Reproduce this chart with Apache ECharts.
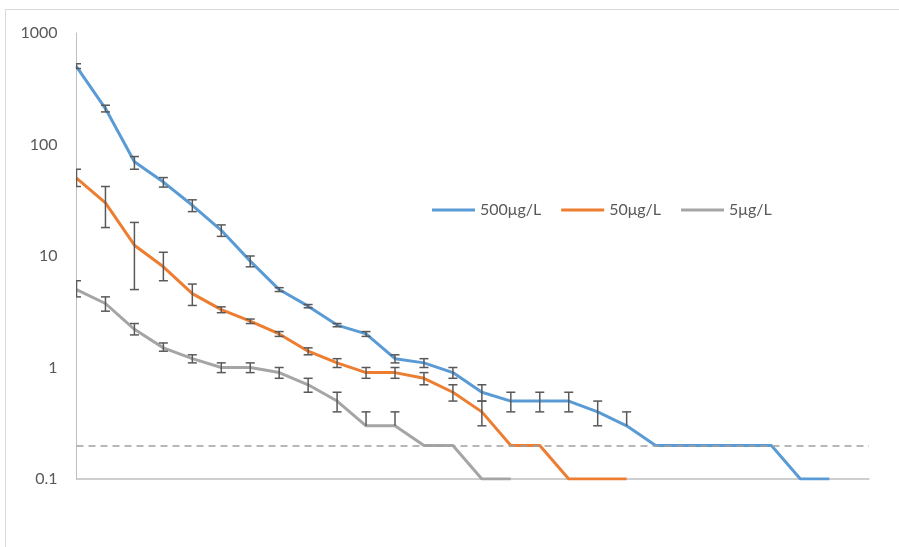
<!DOCTYPE html>
<html>
<head>
<meta charset="utf-8">
<script src="https://cdn.jsdelivr.net/npm/echarts@6/dist/echarts.min.js"></script>
<style>
  html, body { margin: 0; padding: 0; background: #fff; }
  #chart { width: 899px; height: 547px; }
</style>
</head>
<body>
<div id="chart"></div>
<script>
// Sampling points along the horizontal axis
const points = [0, 1, 2, 3, 4, 5, 6, 7, 8, 9, 10, 11, 12, 13, 14, 15, 16, 17, 18, 19, 20, 21, 22, 23, 24, 25, 26];

// Tick values of the logarithmic y axis
const yTicks = [0.1, 1, 10, 100, 1000];

// Detection limit shown as a dashed reference line
const limitValue = 0.2;

const seriesNames = ['500μg/L', '50μg/L', '5μg/L'];

// 500 μg/L
const c500 = [500, 210, 70, 46, 28.5, 17, 9, 5, 3.55, 2.4, 2, 1.2, 1.1, 0.9, 0.6, 0.5, 0.5, 0.5, 0.4, 0.3, 0.2, 0.2, 0.2, 0.2, 0.2, 0.1, 0.1];
const c500ErrPlus  = [30, 15, 8, 4.5, 3.4, 2, 1, 0.2, 0.12, 0.08, 0.1, 0.1, 0.1, 0.1, 0.1, 0.1, 0.1, 0.1, 0.1, 0.1, 0, 0, 0, 0, 0, 0, 0];
const c500ErrMinus = [20, 14, 10, 4.5, 3.5, 2, 1, 0.2, 0.12, 0.08, 0.1, 0.1, 0.1, 0.1, 0.1, 0.1, 0.1, 0.1, 0.1, 0, 0, 0, 0, 0, 0, 0, 0];

// 50 μg/L
const c50 = [50, 30, 12.5, 8, 4.6, 3.3, 2.6, 2, 1.4, 1.1, 0.9, 0.9, 0.8, 0.6, 0.4, 0.2, 0.2, 0.1, 0.1, 0.1, null, null, null, null, null, null, null];
const c50ErrPlus  = [10, 12, 7.5, 2.8, 1, 0.2, 0.12, 0.1, 0.1, 0.1, 0.1, 0.1, 0.1, 0.1, 0.1, 0, 0, 0, 0, 0];
const c50ErrMinus = [8, 12, 7.5, 2, 1, 0.2, 0.12, 0.1, 0.1, 0.1, 0.1, 0.1, 0.1, 0.1, 0.1, 0, 0, 0, 0, 0];

// 5 μg/L
const c5 = [5, 3.75, 2.2, 1.5, 1.2, 1, 1, 0.9, 0.7, 0.5, 0.3, 0.3, 0.2, 0.2, 0.1, 0.1, null, null, null, null, null, null, null, null, null, null, null];
const c5ErrPlus  = [1, 0.55, 0.28, 0.16, 0.1, 0.1, 0.1, 0.1, 0.1, 0.1, 0.1, 0.1, 0, 0, 0, 0];
const c5ErrMinus = [0.7, 0.55, 0.24, 0.1, 0.1, 0.1, 0.1, 0.1, 0.1, 0.1, 0, 0, 0, 0, 0, 0];

const colors = ['#5B9BD5', '#ED7D31', '#A5A5A5'];
const textColor = '#595959';
const fontFamily = 'Lato, "Open Sans", sans-serif';

function lineData(values) {
  return values.map((v, i) => [points[i], v]);
}

// [x, low, high, minusLen, plusLen]
function errorData(values, plus, minus) {
  const out = [];
  values.forEach((v, i) => {
    if (v == null) return;
    const p = plus[i] || 0, m = minus[i] || 0;
    if (p === 0 && m === 0) return;
    out.push([points[i], v - m, v + p, m, p]);
  });
  return out;
}

function renderErrorBar(params, api) {
  const x = api.value(0);
  const low = api.value(1);
  const high = api.value(2);
  const m = api.value(3);
  const p = api.value(4);
  const top = api.coord([x, high]);
  const bottom = api.coord([x, low]);
  const half = 4.5;
  const style = { stroke: '#595959', lineWidth: 1.5, fill: null };
  const children = [{
    type: 'line',
    shape: { x1: top[0], y1: top[1], x2: bottom[0], y2: bottom[1] },
    style: style
  }];
  if (p > 0) {
    children.push({ type: 'line', shape: { x1: top[0] - half, y1: top[1], x2: top[0] + half, y2: top[1] }, style: style });
  }
  if (m > 0) {
    children.push({ type: 'line', shape: { x1: bottom[0] - half, y1: bottom[1], x2: bottom[0] + half, y2: bottom[1] }, style: style });
  }
  return { type: 'group', children: children };
}

const valueSets = [c500, c50, c5];
const plusSets = [c500ErrPlus, c50ErrPlus, c5ErrPlus];
const minusSets = [c500ErrMinus, c50ErrMinus, c5ErrMinus];

const series = [];
seriesNames.forEach((name, k) => {
  const s = {
    name: name,
    type: 'line',
    data: lineData(valueSets[k]),
    symbol: 'none',
    connectNulls: false,
    lineStyle: { color: colors[k], width: 3 },
    itemStyle: { color: colors[k] },
    z: 2
  };
  if (k === 0) {
    s.markLine = {
      silent: true,
      symbol: 'none',
      label: { show: false },
      lineStyle: { color: '#A0A0A0', width: 1.7, type: [7, 5] },
      data: [{ yAxis: limitValue }]
    };
  }
  series.push(s);
});
seriesNames.forEach((name, k) => {
  series.push({
    type: 'custom',
    name: name + ' error',
    renderItem: renderErrorBar,
    data: errorData(valueSets[k], plusSets[k], minusSets[k]),
    encode: { x: 0, y: [1, 2] },
    clip: true,
    z: 3
  });
});

const chart = echarts.init(document.getElementById('chart'), null, { renderer: 'canvas' });
chart.setOption({
  animation: false,
  backgroundColor: '#ffffff',
  graphic: [{
    type: 'rect',
    shape: { x: 5.5, y: 9.5, width: 1000, height: 1000 },
    style: { fill: null, stroke: '#D9D9D9', lineWidth: 1 },
    silent: true,
    z: -10
  }],
  grid: { left: 76.5, top: 33, right: 30, bottom: 68 },
  legend: {
    data: seriesNames.map(n => ({ name: n, icon: 'rect' })),
    left: 427,
    top: 197,
    itemWidth: 43,
    itemHeight: 3,
    itemGap: 20,
    textStyle: { color: textColor, fontSize: 16, fontFamily: fontFamily }
  },
  xAxis: {
    type: 'value',
    min: 0,
    max: 27.37,
    axisLine: { show: true, onZero: false, lineStyle: { color: '#BFBFBF', width: 1.5 } },
    axisTick: { show: false },
    axisLabel: { show: false },
    splitLine: { show: false }
  },
  yAxis: {
    type: 'log',
    logBase: 10,
    min: yTicks[0],
    max: yTicks[yTicks.length - 1],
    axisLine: { show: true, lineStyle: { color: '#BFBFBF', width: 1 } },
    axisTick: { show: false },
    splitLine: { show: false },
    axisLabel: {
      margin: 19,
      color: textColor,
      fontSize: 16,
      fontFamily: fontFamily,
      formatter: function (v) {
        let best = yTicks[0];
        yTicks.forEach(t => { if (Math.abs(Math.log10(t) - Math.log10(v)) < Math.abs(Math.log10(best) - Math.log10(v))) best = t; });
        return String(best);
      }
    }
  },
  series: series
});
</script>
</body>
</html>
